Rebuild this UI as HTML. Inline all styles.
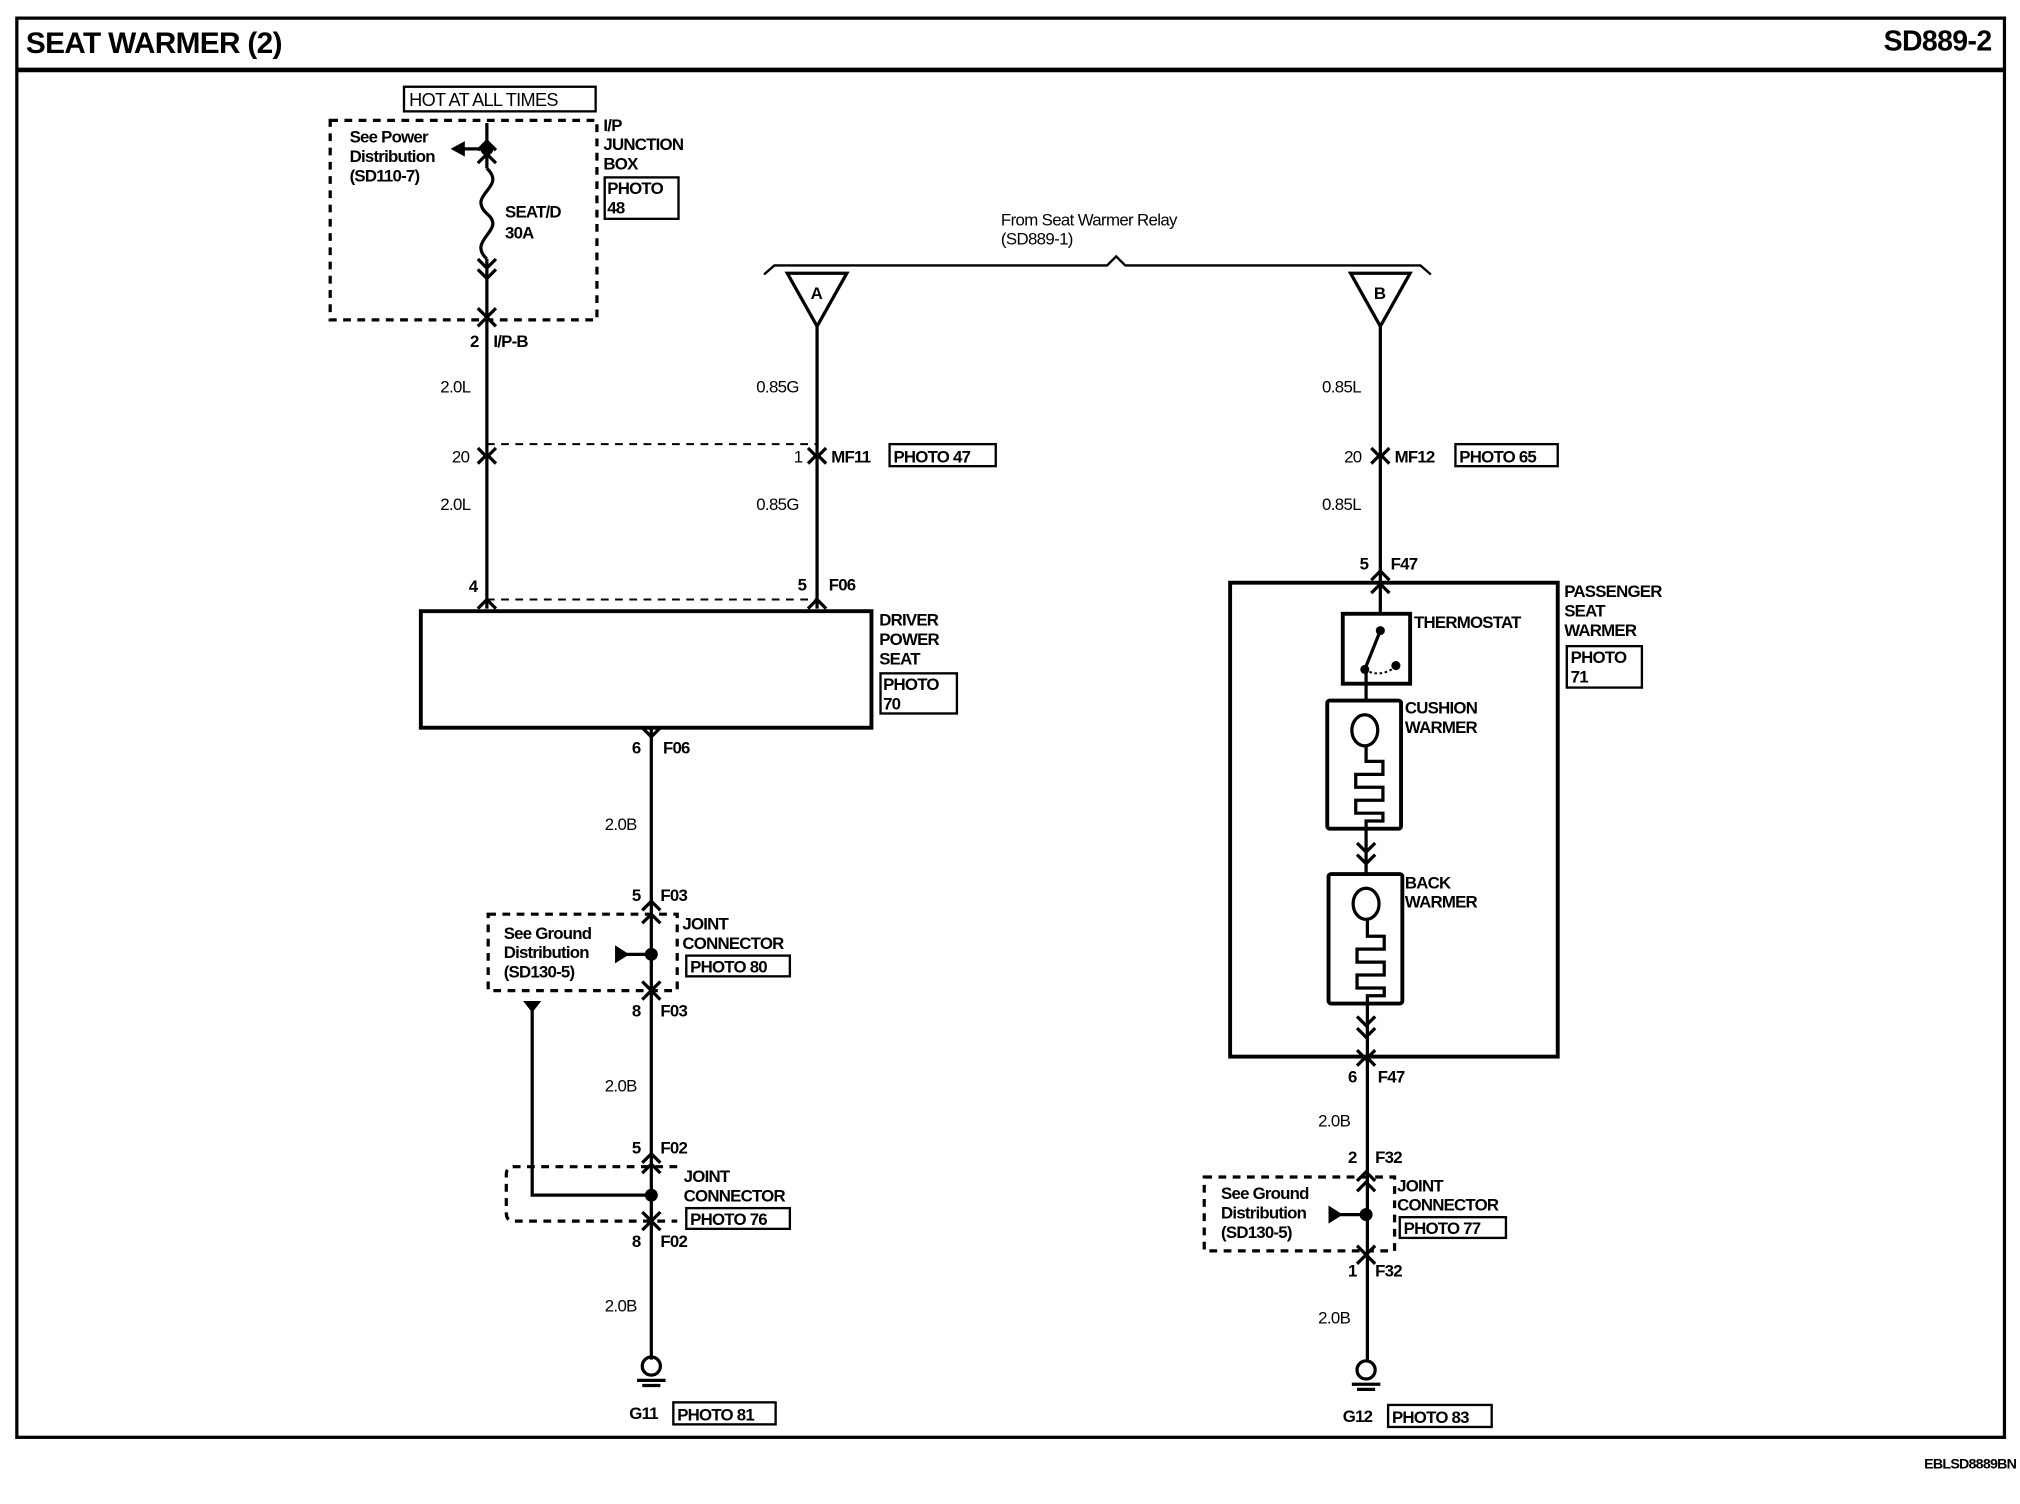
<!DOCTYPE html>
<html><head><meta charset="utf-8"><style>
html,body{margin:0;padding:0;background:#fff}
svg{display:block}
text{font-family:"Liberation Sans",sans-serif;fill:#000}
.b{font-weight:bold;font-size:13px;letter-spacing:-0.6px}
.r{font-size:13px;letter-spacing:-0.5px}
</style></head><body>
<svg width="2020" height="1504" viewBox="0 0 1560 1161.5" preserveAspectRatio="none" xmlns="http://www.w3.org/2000/svg">
<g fill="none" stroke="#000" stroke-width="2.5">
<rect x="13" y="14" width="1535" height="1096"/>
<line x1="13" y1="54" x2="1548" y2="54" stroke-width="3.5"/>
<!-- left top -->
<rect x="312" y="67" width="148" height="19" stroke-width="1.8"/>
<rect x="255" y="93" width="206" height="154" stroke-dasharray="6,5" stroke-width="2.5"/>
<line x1="376" y1="95" x2="376" y2="130"/>
<path d="M376 130 C392 145 360 150 376 165 C392 178 360 185 376 200"/>
<line x1="376" y1="200" x2="376" y2="470"/>
<polyline points="369,116 376,109 383,116" /><polyline points="369,126 376,119 383,126"/>
<polyline points="369,200 376,207 383,200"/><polyline points="369,208 376,215 383,208"/>
<polyline points="369,238 376,245 383,238"/><polyline points="369,252 376,245 383,252"/>
<line x1="356" y1="115" x2="376" y2="115"/>
<polyline points="369,346 376,353 383,346"/><polyline points="369,358 376,351 383,358"/>
<line x1="376" y1="343" x2="631" y2="343" stroke-dasharray="6,5" stroke-width="1.5"/>
<line x1="376" y1="463" x2="631" y2="463" stroke-dasharray="6,5" stroke-width="1.5"/>
<rect x="467" y="137" width="57" height="32" stroke-width="1.8"/>
<!-- A -->
<polyline points="590,212 598,205 855,205 862,198 869,205 1097,205 1105,212" stroke-width="1.8"/>
<polygon points="608,211 654,211 631,252"/>
<polygon points="1043,211 1089,211 1066,252"/>
<line x1="631" y1="252" x2="631" y2="470"/>
<polyline points="624,346 631,353 638,346"/><polyline points="624,358 631,351 638,358"/>
<rect x="687" y="343" width="82" height="17" stroke-width="1.8"/>
<polyline points="369,470 376,463 383,470"/><polyline points="624,470 631,463 638,470"/>
<rect x="325" y="472" width="348" height="90" stroke-width="3"/>
<rect x="680" y="520" width="59" height="31" stroke-width="1.8"/>
<!-- bottom left -->
<line x1="503" y1="562" x2="503" y2="1050"/>
<polyline points="496,562 503,569 510,562"/>
<polyline points="496,703 503,696 510,703"/><polyline points="496,713 503,706 510,713"/>
<polyline points="496,758 503,765 510,758"/><polyline points="496,772 503,765 510,772"/>
<rect x="377" y="706" width="146" height="59" stroke-dasharray="6,5"/>
<line x1="484" y1="737" x2="503" y2="737"/>
<rect x="530" y="738" width="80" height="16" stroke-width="1.8"/>
<polyline points="411,780 411,923 503,923"/>
<path d="M523 901 H397 Q391 901 391 907 V937 Q391 943 397 943 H523" stroke-dasharray="6,5"/>
<polyline points="496,898 503,891 510,898"/><polyline points="496,906 503,899 510,906"/>
<polyline points="496,936 503,943 510,936"/><polyline points="496,950 503,943 510,950"/>
<rect x="530" y="933" width="80" height="16" stroke-width="1.8"/>
<circle cx="503" cy="1055" r="7"/>
<line x1="492" y1="1066" x2="514" y2="1066"/><line x1="496" y1="1070" x2="510" y2="1070"/>
<rect x="520" y="1083" width="79" height="17" stroke-width="1.8"/>
<!-- right -->
<line x1="1066" y1="252" x2="1066" y2="474"/>
<polyline points="1059,346 1066,353 1073,346"/><polyline points="1059,358 1066,351 1073,358"/>
<rect x="1124" y="343" width="79" height="17" stroke-width="1.8"/>
<polyline points="1059,458 1066,451 1073,458"/>
<polyline points="1059,448 1066,441 1073,448"/>
<rect x="950" y="450" width="253" height="366" stroke-width="3"/>
<rect x="1210" y="499" width="58" height="32" stroke-width="1.8"/>
<rect x="1037" y="474" width="52" height="54" stroke-width="3"/>
<line x1="1066" y1="487" x2="1054" y2="517"/>
<path d="M1054 517 Q1065 524 1078 515" stroke-dasharray="2,2" stroke-width="1.5"/>
<line x1="1055" y1="517" x2="1055" y2="541"/>
<rect x="1025" y="541" width="57" height="99" rx="2" stroke-width="3"/>
<ellipse cx="1054" cy="564" rx="10" ry="12"/>
<path d="M1055 576 V588 H1068 V598 H1047 V608 H1068 V618 H1047 V628 H1068 V634 H1055 V675"/>
<polyline points="1048,651 1055,658 1062,651"/><polyline points="1048,660 1055,667 1062,660"/>
<rect x="1026" y="675" width="57" height="100" rx="2" stroke-width="3"/>
<ellipse cx="1055" cy="698" rx="10" ry="12"/>
<path d="M1056 710 V723 H1069 V733 H1048 V743 H1069 V753 H1048 V763 H1069 V769 H1056 V1050"/>
<polyline points="1048,785 1055,792 1062,785"/><polyline points="1048,794 1055,801 1062,794"/>
<polyline points="1048,811 1055,818 1062,811"/><polyline points="1048,823 1055,816 1062,823"/>
<polyline points="1048,912 1055,905 1062,912"/><polyline points="1048,920 1055,913 1062,920"/>
<polyline points="1048,962 1055,969 1062,962"/><polyline points="1048,976 1055,969 1062,976"/>
<rect x="930" y="909" width="147" height="57" stroke-dasharray="6,5"/>
<line x1="1035" y1="938" x2="1055" y2="938"/>
<rect x="1081" y="940" width="82" height="16" stroke-width="1.8"/>
<circle cx="1055" cy="1058" r="7"/>
<line x1="1044" y1="1069" x2="1066" y2="1069"/><line x1="1048" y1="1073" x2="1062" y2="1073"/>
<rect x="1072" y="1085" width="80" height="17" stroke-width="1.8"/>
</g>
<g fill="#000">
<circle cx="376" cy="115" r="5"/><polygon points="348,115 359,109 359,121"/>
<circle cx="503" cy="737" r="5"/><polygon points="486,737 475,730 475,744"/>
<circle cx="503" cy="923" r="5"/>
<polygon points="404,773 418,773 411,782"/>
<circle cx="1055" cy="938" r="5"/><polygon points="1037,938 1026,931 1026,945"/>
<circle cx="1066" cy="487" r="3.5"/><circle cx="1054" cy="517" r="3.5"/><circle cx="1078" cy="514" r="3.5"/>
</g>
<text x="20" y="41" style="font-weight:bold;font-size:23px;letter-spacing:-0.5px">SEAT WARMER (2)</text>
<text x="1538" y="39" text-anchor="end" style="font-weight:bold;font-size:22px;letter-spacing:-0.5px">SD889-2</text>
<text x="1557" y="1134" text-anchor="end" class="b" style="font-size:11px">EBLSD8889BN</text>
<text x="316" y="82" class="r" style="font-size:14px">HOT AT ALL TIMES</text>
<text class="b" x="270" y="110">See Power</text><text class="b" x="270" y="125">Distribution</text><text class="b" x="270" y="140">(SD110-7)</text>
<text class="b" x="466" y="101">I/P</text><text class="b" x="466" y="116">JUNCTION</text><text class="b" x="466" y="131">BOX</text>
<text class="b" x="469" y="150">PHOTO</text><text class="b" x="469" y="165">48</text>
<text class="b" x="390" y="168">SEAT/D</text><text class="b" x="390" y="184">30A</text>
<text class="b" x="363" y="268">2</text><text class="b" x="381" y="268">I/P-B</text>
<text class="r" x="340" y="303">2.0L</text><text class="r" x="340" y="394">2.0L</text>
<text class="r" x="349" y="357">20</text><text class="b" x="362" y="457">4</text>
<text class="r" x="773" y="174">From Seat Warmer Relay</text><text class="r" x="773" y="189">(SD889-1)</text>
<text class="b" x="626" y="231">A</text><text class="b" x="1061" y="231">B</text>
<text class="r" x="584" y="303">0.85G</text><text class="r" x="584" y="394">0.85G</text>
<text class="r" x="613" y="357">1</text><text class="b" x="642" y="357">MF11</text><text class="b" x="690" y="357">PHOTO 47</text>
<text class="b" x="616" y="456">5</text><text class="b" x="640" y="456">F06</text>
<text class="b" x="679" y="483">DRIVER</text><text class="b" x="679" y="498">POWER</text><text class="b" x="679" y="513">SEAT</text>
<text class="b" x="682" y="533">PHOTO</text><text class="b" x="682" y="548">70</text>
<text class="b" x="488" y="582">6</text><text class="b" x="512" y="582">F06</text>
<text class="r" x="467" y="641">2.0B</text>
<text class="b" x="488" y="696">5</text><text class="b" x="510" y="696">F03</text>
<text class="b" x="389" y="725">See Ground</text><text class="b" x="389" y="740">Distribution</text><text class="b" x="389" y="755">(SD130-5)</text>
<text class="b" x="527" y="718">JOINT</text><text class="b" x="527" y="733">CONNECTOR</text><text class="b" x="533" y="751">PHOTO 80</text>
<text class="b" x="488" y="785">8</text><text class="b" x="510" y="785">F03</text>
<text class="r" x="467" y="843">2.0B</text>
<text class="b" x="488" y="891">5</text><text class="b" x="510" y="891">F02</text>
<text class="b" x="528" y="913">JOINT</text><text class="b" x="528" y="928">CONNECTOR</text><text class="b" x="533" y="946">PHOTO 76</text>
<text class="b" x="488" y="963">8</text><text class="b" x="510" y="963">F02</text>
<text class="r" x="467" y="1013">2.0B</text>
<text class="b" x="486" y="1096">G11</text><text class="b" x="523" y="1097">PHOTO 81</text>
<text class="r" x="1021" y="303">0.85L</text><text class="r" x="1021" y="394">0.85L</text>
<text class="r" x="1038" y="357">20</text><text class="b" x="1077" y="357">MF12</text><text class="b" x="1127" y="357">PHOTO 65</text>
<text class="b" x="1050" y="440">5</text><text class="b" x="1074" y="440">F47</text>
<text class="b" x="1208" y="461">PASSENGER</text><text class="b" x="1208" y="476">SEAT</text><text class="b" x="1208" y="491">WARMER</text>
<text class="b" x="1213" y="512">PHOTO</text><text class="b" x="1213" y="527">71</text>
<text class="b" x="1092" y="485">THERMOSTAT</text>
<text class="b" x="1085" y="551">CUSHION</text><text class="b" x="1085" y="566">WARMER</text>
<text class="b" x="1085" y="686">BACK</text><text class="b" x="1085" y="701">WARMER</text>
<text class="b" x="1041" y="836">6</text><text class="b" x="1064" y="836">F47</text>
<text class="r" x="1018" y="870">2.0B</text>
<text class="b" x="1041" y="898">2</text><text class="b" x="1062" y="898">F32</text>
<text class="b" x="943" y="926">See Ground</text><text class="b" x="943" y="941">Distribution</text><text class="b" x="943" y="956">(SD130-5)</text>
<text class="b" x="1079" y="920">JOINT</text><text class="b" x="1079" y="935">CONNECTOR</text><text class="b" x="1084" y="953">PHOTO 77</text>
<text class="b" x="1041" y="986">1</text><text class="b" x="1062" y="986">F32</text>
<text class="r" x="1018" y="1022">2.0B</text>
<text class="b" x="1037" y="1098">G12</text><text class="b" x="1075" y="1099">PHOTO 83</text>
</svg>
</body></html>
